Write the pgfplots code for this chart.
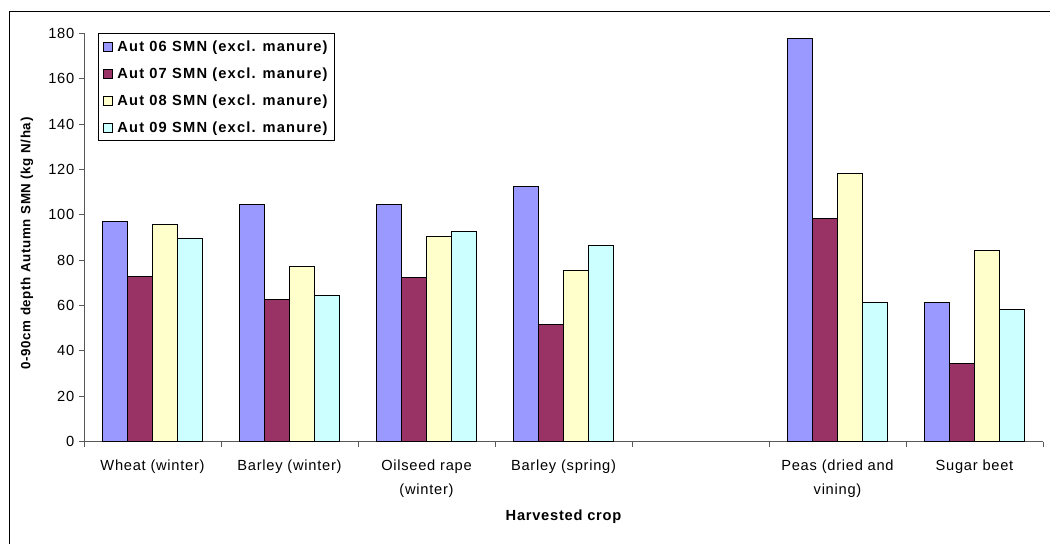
\documentclass[border=0pt]{standalone}
\usepackage{fontspec}
\setmainfont{Liberation Sans}
\newfontfamily\wide{Liberation Sans}[LetterSpace=5]
\newfontfamily\wideL{Liberation Sans}[LetterSpace=8]
\usepackage{pgfplots}
\pgfplotsset{compat=1.18}
\definecolor{c1}{HTML}{9999FF}
\definecolor{c2}{HTML}{993366}
\definecolor{c3}{HTML}{FFFFCC}
\definecolor{c4}{HTML}{CCFFFF}
\pgfplotsset{
  mybar/.style={draw=black, line width=0.75pt, fill=#1,
    legend image code/.code={\draw[##1, line width=0.6pt] (0pt,-3.2pt) rectangle (6.4pt,3.2pt); \path (8.5pt,0pt);}},
}
\begin{document}
\begin{tikzpicture}[x=0.75pt,y=0.75pt]
\begin{axis}[
  at={(63pt,76.875pt)}, anchor=south west,
  scale only axis, width=719.25pt, height=306.15pt,
  ybar, bar width=0.182,
  xmin=-0.5, xmax=6.5, ymin=0, ymax=180,
  axis x line*=bottom, axis y line*=left,
  axis line style={black!65, line width=0.75pt},
  every tick/.style={black!65, line width=0.75pt},
  tick align=outside,
  xtick={0,1,2,3,5,6},
  xticklabels={Wheat (winter), Barley (winter), Oilseed rape\\(winter), Barley (spring), Peas (dried and\\vining), Sugar beet},
  major x tick style={draw=none},
  minor xtick={-0.5,0.5,1.5,2.5,3.5,4.5,5.5,6.5},
  minor tick length=3.75pt,
  major tick length=3.75pt,
  ytick={0,20,...,180},
  /pgf/number format/assume math mode=true,
  x tick label style={align=center, font=\wide\fontsize{11}{18}\selectfont, yshift=-6.5pt},
  y tick label style={font=\wide\fontsize{11}{13}\selectfont},
  ylabel={0-90cm depth Autumn SMN (kg N/ha)},
  ylabel style={at={(axis description cs:-0.0594,0.485)}, anchor=center, font=\wide\bfseries\fontsize{10}{12}\selectfont},
  xlabel={Harvested crop},
  xlabel style={at={(axis description cs:0.5,-0.185)}, anchor=center, font=\wide\bfseries\fontsize{11}{13}\selectfont},
  legend style={at={(axis description cs:0.0146,1)}, anchor=north west, draw=black, line width=0.75pt,
    font=\wideL\bfseries\fontsize{11}{13}\selectfont, row sep=7.8pt, inner sep=3.5pt,
    nodes={inner sep=1.5pt}},
  legend cell align=left,
]
\addplot[mybar=c1, bar shift=-0.273] coordinates {(0,96.8) (1,104.3) (2,104.7) (3,112.5) (5,177.5) (6,61.5)};
\addplot[mybar=c2, bar shift=-0.091] coordinates {(0,72.7) (1,62.8) (2,72.1) (3,51.4) (5,98.4) (6,34.2)};
\addplot[mybar=c3, bar shift=0.091] coordinates {(0,95.8) (1,77.2) (2,90.6) (3,75.6) (5,118.1) (6,84.4)};
\addplot[mybar=c4, bar shift=0.273] coordinates {(0,89.6) (1,64.3) (2,92.8) (3,86.6) (5,61.5) (6,58.3)};
\legend{Aut 06 SMN (excl. manure), Aut 07 SMN (excl. manure), Aut 08 SMN (excl. manure), Aut 09 SMN (excl. manure)}
\end{axis}
\draw[black, line width=0.75pt] (9,0) -- (9,532) -- (1050,532);
\pgfresetboundingbox
\useasboundingbox (0,0) rectangle (1050,544);
\end{tikzpicture}
\end{document}
